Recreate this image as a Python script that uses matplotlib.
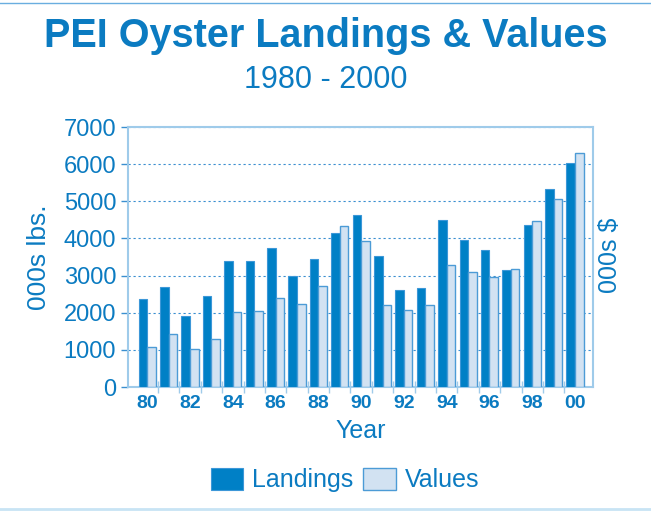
import numpy as np
import matplotlib.pyplot as plt
from matplotlib.lines import Line2D

# data (thousands)
years = list(range(1980, 2001))
landings = [2370, 2690, 1910, 2440, 3380, 3400, 3730, 2980, 3450, 4140, 4620,
            3520, 2600, 2670, 4500, 3960, 3700, 3150, 4360, 5330, 6030]
values = [1070, 1440, 1030, 1300, 2020, 2040, 2400, 2230, 2710, 4340, 3920,
          2200, 2060, 2220, 3290, 3090, 2950, 3170, 4460, 5070, 6310]
tick_labels = [f"{y % 100:02d}" for y in years[::2]]

TXT = "#0B7BC1"
DARK = "#0080C6"
LIGHT = "#D2E2F2"
EDGE = "#4C9BD6"
SPINE = "#9FCBEA"

plt.rcParams['font.family'] = ['Liberation Sans', 'DejaVu Sans']

fig = plt.figure(figsize=(6.51, 5.11), dpi=100)
ax = fig.add_axes([128 / 651, 1 - 387 / 511, (593 - 128) / 651, 260 / 511])

x = np.arange(len(years))
w = 0.4
b1 = ax.bar(x - w / 2, landings, w, color=DARK, edgecolor="#3C97D8", linewidth=0.8,
            label="Landings", zorder=3)
b2 = ax.bar(x + w / 2, values, w, color=LIGHT, edgecolor=EDGE, linewidth=1.0,
            label="Values", zorder=3)

ax.set_xlim(-0.9, 20.84)
ax.set_ylim(0, 7000)
ax.set_yticks(range(0, 7001, 1000))
ax.set_xticks(x[::2])
ax.set_xticklabels(tick_labels, fontsize=14, fontweight="bold", color=TXT)
ax.set_xticks(x[:-1] + 0.5, minor=True)
ax.tick_params(axis="x", which="major", length=0, pad=6)
ax.tick_params(axis="x", which="minor", direction="inout", length=8, color=SPINE, width=1)
ax.tick_params(axis="y", labelsize=17, labelcolor=TXT, color="#3A8FD0", length=5, width=1)
ax.grid(axis="y", linestyle=(0, (2, 2.5)), color="#3A8FD0", linewidth=0.8, zorder=0)

for s in ax.spines.values():
    s.set_color(SPINE)
    s.set_linewidth(1.5)

ax.set_ylabel("000s lbs.", fontsize=19, color=TXT, labelpad=9)
ax.set_xlabel("Year", fontsize=18, color=TXT, labelpad=5)
fig.text(0.937, (511 - 255) / 511, "000s $", rotation=90, fontsize=18, color=TXT,
         ha="center", va="center")

fig.text(0.5, 1 - 36 / 511, "PEI Oyster Landings & Values", fontsize=28.5,
         fontweight="bold", color=TXT, ha="center", va="center")
fig.text(0.5, 1 - 80 / 511, "1980 - 2000", fontsize=22, color=TXT, ha="center", va="center")

leg = fig.legend(handles=[b1, b2], loc="center", bbox_to_anchor=(0.53, 1 - 480 / 511),
                 ncol=2, frameon=False, fontsize=18, handlelength=1.3, handleheight=1.0,
                 handletextpad=0.35, columnspacing=0.4)
for t in leg.get_texts():
    t.set_color(TXT)

fig.add_artist(Line2D([0, 1], [1 - 3 / 511, 1 - 3 / 511], color="#6AAEE0", linewidth=1,
                      transform=fig.transFigure))
fig.add_artist(Line2D([0, 1], [2 / 511, 2 / 511], color="#C8E4F4", linewidth=2,
                      transform=fig.transFigure))

fig.savefig("out.png", dpi=100)
